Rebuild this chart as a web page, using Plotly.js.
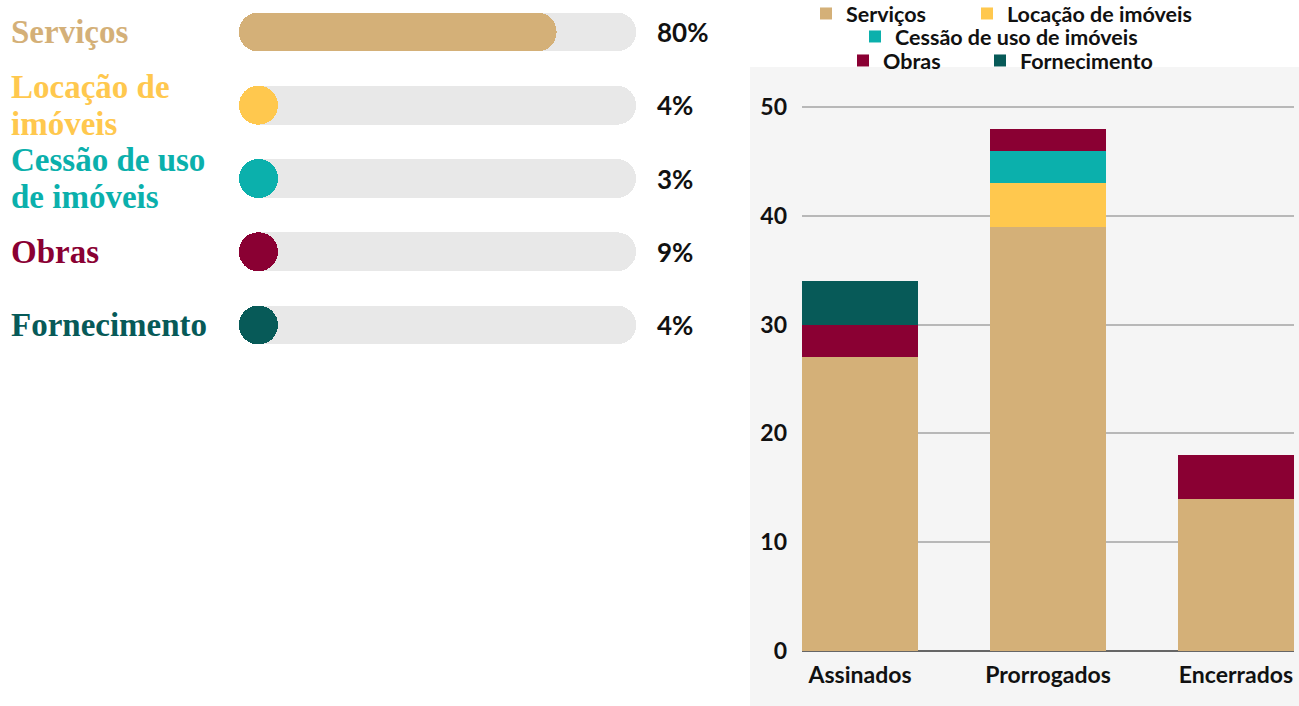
<!DOCTYPE html>
<html><head><meta charset="utf-8">
<script src="https://cdn.plot.ly/plotly-3.0.1.min.js"></script>
<style>html,body{margin:0;padding:0;background:#fff;} #chart{width:1299px;height:706px;}</style>
</head><body><div id="chart"></div>
<script>
// ---- data ----
const categories = ['Serviços', 'Locação de imóveis', 'Cessão de uso de imóveis', 'Obras', 'Fornecimento'];
const rowLabels = ['Serviços', 'Locação de<br>imóveis', 'Cessão de uso<br>de imóveis', 'Obras', 'Fornecimento'];
const sharePct = [80, 4, 3, 9, 4];
const statusLabels = ['Assinados', 'Prorrogados', 'Encerrados'];
const servicos = [27, 39, 14];
const locacao = [0, 4, 0];
const cessao = [0, 3, 0];
const obras = [3, 2, 4];
const fornecimento = [4, 0, 0];
const yTicks = [0, 10, 20, 30, 40, 50];

// ---- styles ----
const colors = ['#D4B078', '#FFC84E', '#0BB0AC', '#8A0033', '#075A58'];
const W = 1299, H = 706;
const SANS = 'Lato, "Open Sans", sans-serif';
const SERIF = '"Liberation Serif", serif';
const trackColor = '#E8E8E8';
const pillWidth = 0.53;      // bar thickness in category units
const minPill = 9.8;         // a pill is at least as long as it is thick

const traces = [];
// left: progress tracks
traces.push({
  type: 'bar', orientation: 'h', xaxis: 'x2', yaxis: 'y2',
  y: categories, x: categories.map(() => 100), base: 0,
  width: pillWidth, marker: {color: trackColor, cornerradius: '50%'},
  showlegend: false, hoverinfo: 'skip'
});
traces.push({
  type: 'bar', orientation: 'h', xaxis: 'x2', yaxis: 'y2',
  y: categories, x: sharePct.map(v => Math.max(v, minPill)), base: 0,
  customdata: sharePct, hovertemplate: '%{y}: %{customdata}%<extra></extra>',
  width: pillWidth, marker: {color: colors, cornerradius: '50%'},
  showlegend: false
});

// right: stacked bars
const series = [servicos, locacao, cessao, obras, fornecimento];
const legendOf = ['legend', 'legend', 'legend2', 'legend3', 'legend3'];
const legendWidths = [116, null, null, 92, null];
series.forEach((vals, i) => {
  const t = {
    type: 'bar', name: categories[i], x: statusLabels, y: vals,
    marker: {color: colors[i]}, legend: legendOf[i], xaxis: 'x', yaxis: 'y'
  };
  if (legendWidths[i]) t.legendwidth = legendWidths[i];
  traces.push(t);
});

const annotations = [];
categories.forEach((c, i) => {
  const lines = rowLabels[i].split('<br>');
  const n = lines.length;
  lines.forEach((ln, j) => {
    annotations.push({
      xref: 'paper', yref: 'y2', x: 9 / W, y: c, xanchor: 'left', yanchor: 'middle',
      text: ln, showarrow: false, yshift: ((n - 1) / 2 - j) * 37,
      font: {family: SERIF, size: 33, weight: 'bold', color: colors[i]}
    });
  });
  annotations.push({
    xref: 'paper', yref: 'y2', x: 655 / W, y: c, xanchor: 'left', yanchor: 'middle',
    text: sharePct[i] + '%', showarrow: false,
    font: {family: SANS, size: 26, weight: 'bold', color: '#111'}
  });
});

const legendBase = {
  orientation: 'h', xanchor: 'left', yanchor: 'middle', traceorder: 'normal',
  bgcolor: 'rgba(0,0,0,0)', font: {family: SANS, size: 21.5, weight: 'bold', color: '#111'},
  borderwidth: 0
};

const layout = {
  width: W, height: H, margin: {l: 0, r: 0, t: 0, b: 0, autoexpand: false},
  paper_bgcolor: '#fff', plot_bgcolor: 'rgba(0,0,0,0)',
  barmode: 'stack', bargap: 0.383,
  showlegend: true,
  legend: Object.assign({}, legendBase, {x: 806 / W, y: 1 - 13.5 / H}),
  legend2: Object.assign({}, legendBase, {x: 855 / W, y: 1 - 36.5 / H}),
  legend3: Object.assign({}, legendBase, {x: 843 / W, y: 1 - 60.5 / H}),
  xaxis: {
    domain: [802 / W, 1294 / W], range: [-0.309, 2.309], type: 'category',
    showgrid: false, zeroline: false, showline: false, ticks: '',
    ticklabelstandoff: 8,
    tickfont: {family: SANS, size: 23, weight: 'bold', color: '#111'}
  },
  yaxis: {
    domain: [1 - 651 / H, 1 - 100 / H], range: [0, 50.643], tickvals: yTicks,
    showgrid: true, gridcolor: '#B8B8B8', gridwidth: 2,
    zeroline: true, zerolinecolor: '#666', zerolinewidth: 2,
    ticks: '', ticklabelstandoff: 14,
    tickfont: {family: SANS, size: 23, weight: 'bold', color: '#111'}
  },
  xaxis2: {
    domain: [239 / W, 636 / W], range: [0, 100], anchor: 'y2',
    visible: false, fixedrange: true
  },
  yaxis2: {
    domain: [1 - 354.3 / H, 1 - 2.7 / H], range: [4.4, -0.4], type: 'category',
    categoryarray: categories, anchor: 'x2', visible: false, fixedrange: true
  },
  shapes: [{
    type: 'rect', xref: 'paper', yref: 'paper', x0: 750 / W, x1: 1, y0: 0, y1: 1 - 67 / H,
    fillcolor: '#F5F5F5', line: {width: 0}, layer: 'below'
  }],
  annotations: annotations
};

Plotly.newPlot('chart', traces, layout, {displayModeBar: false});
</script>
</body></html>
